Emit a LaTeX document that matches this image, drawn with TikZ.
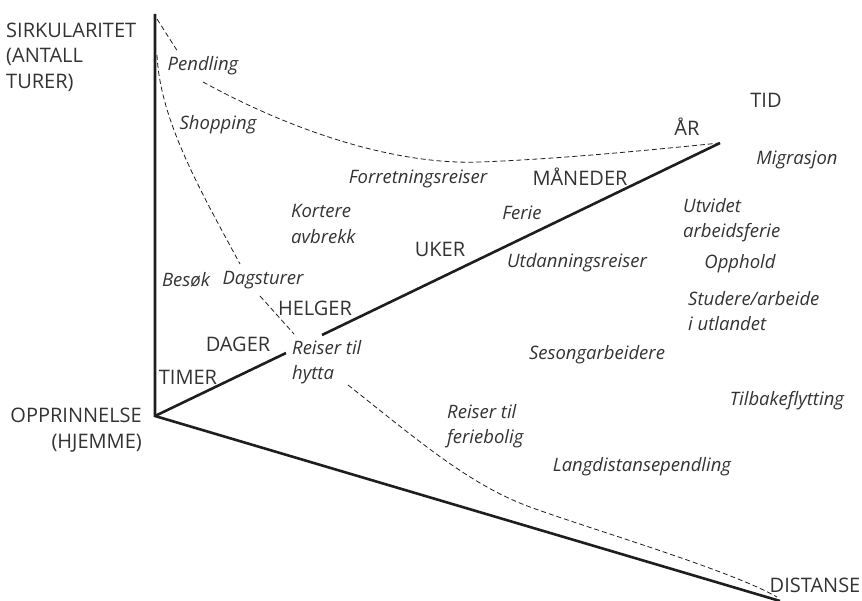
\documentclass[tikz,border=0pt]{standalone}
\usepackage{fontspec}
\setmainfont{Open Sans}
\definecolor{txt}{HTML}{333333}
\definecolor{ln}{HTML}{1E1E1E}
\tikzset{
  lbl/.style={font=\fontsize{20}{25.5}\selectfont, text=txt, inner sep=0pt},
  it/.style={lbl, font=\fontsize{18.5}{25.5}\selectfont\itshape},
  axis/.style={draw=ln, line width=2.6pt},
  bound/.style={draw=ln, line width=0.8pt, dash pattern=on 5pt off 3pt},
}
\begin{document}
\begin{tikzpicture}[x=1pt,y=-1pt]
\useasboundingbox (0,0) rectangle (862,601);
% axes
\coordinate (O) at (155,416);
\coordinate (top) at (155,14);
\coordinate (dend) at (780,601);
\coordinate (t1) at (286,353);
\coordinate (t2) at (322,335);
\coordinate (tend) at (720,143);
\draw[axis] (top) -- (O) -- (dend);
\draw[axis] (O) -- (t1);
\draw[axis] (t2) -- (tend);
% boundary curves
\coordinate (a1) at (157,19);
\coordinate (a2) at (178,52);
\coordinate (b1) at (203,82);
\coordinate (bm) at (480,162);
\coordinate (c1) at (157,55);
\coordinate (c2) at (240,264);
\coordinate (d1) at (260,296);
\coordinate (d2) at (294,334);
\coordinate (e1) at (348,385);
\coordinate (em) at (530,507);
\coordinate (e2) at (777,597);
\draw[bound] (a1) -- (a2);
\draw[bound] (b1) .. controls (300,135) and (400,165) .. (bm)
                  .. controls (560,159) and (650,150) .. (tend);
\draw[bound] (c1) .. controls (160,120) and (200,190) .. (c2);
\draw[bound] (d1) -- (d2);
\draw[bound] (e1) .. controls (420,442) and (470,485) .. (em)
                  .. controls (590,529) and (730,570) .. (e2);
% axis labels
\node[lbl, align=left, anchor=west] (sirk) at (6,57) {SIRKULARITET\\(ANTALL\\TURER)};
\node[lbl, align=right, anchor=east] (opp) at (142,430) {OPPRINNELSE\\(HJEMME)};
\node[lbl] (dist) at (815,585) {DISTANSE};
\node[lbl] (tid) at (766,100) {TID};
\node[lbl] (ar) at (687,127) {ÅR};
\node[lbl] (maned) at (580,177) {MÅNEDER};
\node[lbl] (uker) at (440,249) {UKER};
\node[lbl] (helger) at (315,308) {HELGER};
\node[lbl] (dager) at (238,344) {DAGER};
\node[lbl] (timer) at (188,377) {TIMER};
% trip types
\node[it] (pend) at (203,66) {Pendling};
\node[it] (shop) at (218,125) {Shopping};
\node[it] (forr) at (418,179) {Forretningsreiser};
\node[it, align=left, anchor=west] (kort) at (291,224) {Kortere\\avbrekk};
\node[it] (besok) at (186,280) {Besøk};
\node[it] (dags) at (263,280) {Dagsturer};
\node[it, align=left, anchor=west] (hytta) at (292,362) {Reiser til\\hytta};
\node[it] (ferie) at (522,213) {Ferie};
\node[it] (utd) at (577,263) {Utdanningsreiser};
\node[it] (migr) at (797,160) {Migrasjon};
\node[it, align=left, anchor=west] (utv) at (683,220) {Utvidet\\arbeidsferie};
\node[it] (opph) at (740,264) {Opphold};
\node[it, align=left, anchor=west] (stud) at (688,311) {Studere/arbeide\\i utlandet};
\node[it] (seson) at (597,355) {Sesongarbeidere};
\node[it] (tilb) at (787,401) {Tilbakeflytting};
\node[it, align=left, anchor=west] (ferieb) at (447,426) {Reiser til\\feriebolig};
\node[it] (lang) at (642,467) {Langdistansependling};
\end{tikzpicture}
\end{document}
